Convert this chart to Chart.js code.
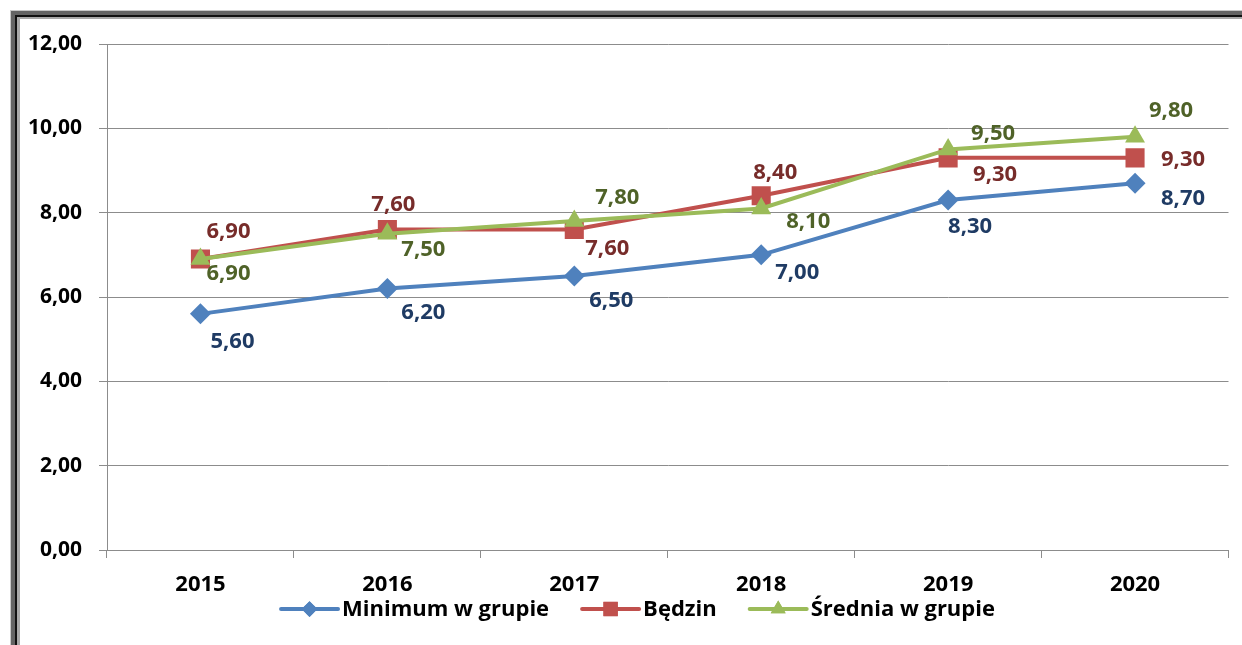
<!DOCTYPE html>
<html>
<head>
<meta charset="utf-8">
<script src="https://cdn.jsdelivr.net/npm/chart.js@4.4.1/dist/chart.umd.min.js"></script>
<style>
  html, body { margin: 0; padding: 0; background: #fff; }
  #wrap { position: relative; width: 1242px; height: 645px; overflow: hidden; background: #fff; }
  #c { position: absolute; left: 0; top: 0; }
  .f { position: absolute; right: 0; bottom: 0; pointer-events: none; box-sizing: border-box; }
</style>
</head>
<body>
<div id="wrap">
  <canvas id="c" width="1242" height="645"></canvas>
  <div class="f" style="left:10px;top:10px;border-top:1px solid #c8c8c8;border-left:1px solid #c8c8c8;"></div>
  <div class="f" style="left:11px;top:11px;border-top:4px solid #646464;border-left:4px solid #646464;"></div>
  <div class="f" style="left:15px;top:15px;border-top:2px solid #111;border-left:2px solid #111;"></div>
  <div class="f" style="left:17px;top:17px;border-top:2px solid #a8a8a8;border-left:3px solid #a8a8a8;"></div>
</div>
<script>
// ---- data ----
const categories = ['2015', '2016', '2017', '2018', '2019', '2020'];
const minimumValues = [5.60, 6.20, 6.50, 7.00, 8.30, 8.70];
const bedzinValues  = [6.90, 7.60, 7.60, 8.40, 9.30, 9.30];
const sredniaValues = [6.90, 7.50, 7.80, 8.10, 9.50, 9.80];
const seriesNames = ['Minimum w grupie', 'Będzin', 'Średnia w grupie'];
const yMin = 0, yMax = 12, yStep = 2;

// ---- styles ----
const FONT = '"Open Sans", Lato, sans-serif';
const lineColors = ['#4F81BD', '#C0504D', '#9BBB59'];
const labelColors = ['#1F3B64', '#772C2A', '#4F6228'];
const pointStyles = ['rectRot', 'rect', 'triangle'];
const pointRadii = [10.5, 13.5, 11.5];
// data-label offsets (pixels from the point to the label centre)
const labelOffsets = [
  [[32, 27], [36, 23], [37, 24], [36, 17], [22, 26], [48, 15]],
  [[28, -28], [6, -26], [33, 18], [14, -24], [47, 16], [48, 1]],
  [[28, 14], [36, 15], [43, -24], [47, 12], [45, -17], [36, -27]]
];

const fmt = v => v.toFixed(2).replace('.', ',');

const dataLabels = {
  id: 'dataLabels',
  afterDatasetsDraw(chart) {
    const ctx = chart.ctx;
    ctx.save();
    ctx.font = 'bold 22px ' + FONT;
    ctx.textAlign = 'center';
    ctx.textBaseline = 'middle';
    chart.data.datasets.forEach((ds, i) => {
      const meta = chart.getDatasetMeta(i);
      ctx.fillStyle = labelColors[i];
      meta.data.forEach((pt, j) => {
        const o = labelOffsets[i][j];
        ctx.fillText(fmt(ds.data[j]), pt.x + o[0], pt.y + o[1] + 1);
      });
    });
    ctx.restore();
  }
};

const customLegend = {
  id: 'customLegend',
  afterDraw(chart) {
    const ctx = chart.ctx;
    ctx.save();
    ctx.font = 'bold 22px ' + FONT;
    const lineLen = 57, gapText = 4, gapItem = 33;
    const items = chart.data.datasets.map((ds, i) => ({
      label: ds.label, w: lineLen + gapText + ctx.measureText(ds.label).width, i
    }));
    const total = items.reduce((s, it) => s + it.w, 0) + gapItem * (items.length - 1);
    let x = 638 - total / 2;
    const y = 609;
    items.forEach(it => {
      ctx.strokeStyle = lineColors[it.i];
      ctx.lineWidth = 4;
      ctx.lineCap = 'round';
      ctx.beginPath();
      ctx.moveTo(x, y);
      ctx.lineTo(x + lineLen, y);
      ctx.stroke();
      ctx.fillStyle = lineColors[it.i];
      Chart.helpers.drawPoint(ctx, {
        pointStyle: pointStyles[it.i], radius: pointRadii[it.i] * 0.75, borderWidth: 0
      }, x + lineLen / 2, y);
      ctx.fill();
      ctx.fillStyle = '#000';
      ctx.textAlign = 'left';
      ctx.textBaseline = 'middle';
      ctx.fillText(it.label, x + lineLen + gapText, y + 1);
      x += it.w + gapItem;
    });
    ctx.restore();
  }
};

const whiteBg = {
  id: 'whiteBg',
  beforeDraw(chart) {
    const ctx = chart.ctx;
    ctx.save();
    ctx.fillStyle = '#fff';
    ctx.fillRect(0, 0, chart.width, chart.height);
    ctx.restore();
  }
};

const seriesValues = [minimumValues, bedzinValues, sredniaValues];

new Chart(document.getElementById('c'), {
  type: 'line',
  data: {
    labels: categories,
    datasets: seriesValues.map((vals, i) => ({
      label: seriesNames[i],
      data: vals,
      borderColor: lineColors[i],
      backgroundColor: lineColors[i],
      pointBackgroundColor: lineColors[i],
      pointBorderColor: lineColors[i],
      pointBorderWidth: 0,
      pointStyle: pointStyles[i],
      pointRadius: pointRadii[i],
      borderWidth: 4,
      tension: 0,
      fill: false,
      order: 3 - i
    }))
  },
  options: {
    responsive: false,
    animation: false,
    events: [],
    layout: { padding: { left: 0, right: 12, top: 44, bottom: 0 } },
    plugins: { legend: { display: false }, tooltip: { enabled: false } },
    scales: {
      x: {
        offset: true,
        grid: { offset: true, drawOnChartArea: false, drawTicks: true, tickLength: 8, color: '#8c8c8c' },
        border: { color: '#8c8c8c', width: 1 },
        ticks: { color: '#000', font: { family: FONT, weight: 'bold', size: 22 }, padding: 14, maxRotation: 0 },
        afterFit(s) { s.height = 95; }
      },
      y: {
        min: yMin, max: yMax,
        grid: { color: '#8c8c8c', tickLength: 8, lineWidth: 1 },
        border: { color: '#8c8c8c', width: 1 },
        ticks: {
          stepSize: yStep, color: '#000', padding: 17,
          font: { family: FONT, weight: 'bold', size: 21 },
          callback: v => fmt(v)
        },
        afterFit(s) { s.width = 107; }
      }
    }
  },
  plugins: [whiteBg, dataLabels, customLegend]
});
</script>
</body>
</html>
